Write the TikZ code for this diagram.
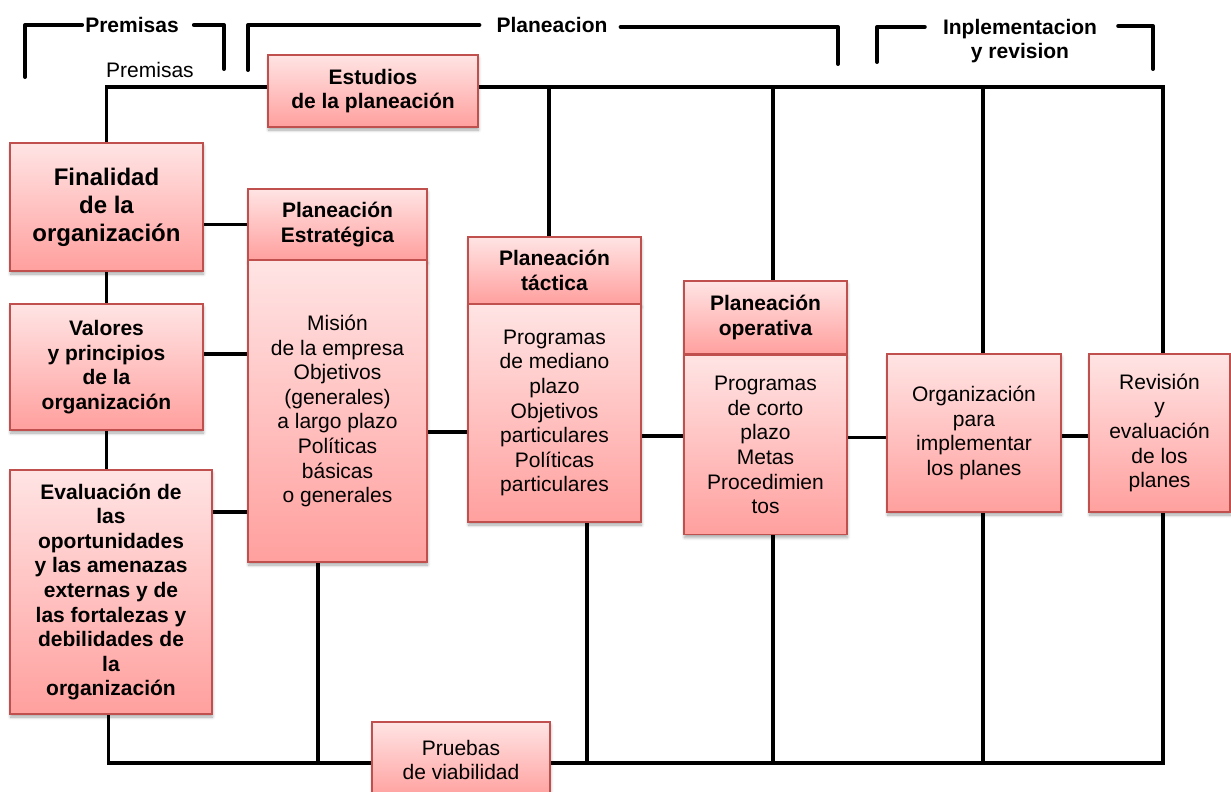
\documentclass[tikz,border=0pt]{standalone}
\usepackage{fontspec}
\setmainfont{Liberation Sans}
\usetikzlibrary{shadows.blur,backgrounds}
\definecolor{boxline}{RGB}{192,80,77}
\definecolor{pinktop}{RGB}{255,228,228}
\definecolor{pinkbot}{RGB}{255,160,158}
\tikzset{
  card/.style={draw=boxline, line width=1.6pt, top color=pinktop, bottom color=pinkbot,
    align=center, inner sep=0pt, font=\fontsize{21}{24.6}\selectfont,
    blur shadow={shadow xshift=0.5pt, shadow yshift=-3pt, shadow blur radius=3pt,
      shadow blur steps=6, shadow opacity=35}},
  bcard/.style={card, font=\bfseries\fontsize{21}{24.6}\selectfont},
  link/.style={line width=3.5pt, black},
  bracket/.style={line width=4pt, black, line cap=round, line join=round},
  lbl/.style={font=\bfseries\fontsize{21}{24}\selectfont, align=center, inner sep=0pt},
}
\begin{document}
\begin{tikzpicture}[x=1pt, y=-1pt]
\useasboundingbox (0,0) rectangle (1231,792);

% ---- boxes ----
\node[bcard, minimum width=210pt, minimum height=72pt] (est) at (373,91) {Estudios\\de la planeación};
\node[bcard, minimum width=193pt, minimum height=128pt, font=\bfseries\fontsize{24}{28}\selectfont] (fin) at (106.5,207) {Finalidad\\de la\\organización};
\node[bcard, minimum width=193pt, minimum height=126pt] (val) at (106.5,367) {Valores\\y principios\\de la\\organización};
\node[bcard, minimum width=202pt, minimum height=244pt] (eva) at (111,592) {Evaluación de\\las\\oportunidades\\y las amenazas\\externas y de\\las fortalezas y\\debilidades de\\la\\organización};

\node[bcard, minimum width=179pt, minimum height=71pt] (peh) at (337.5,224.5) {Planeación\\Estratégica};
\node[card, minimum width=179pt, minimum height=302pt] (peb) at (337.5,411) {Misión\\de la empresa\\Objetivos\\(generales)\\a largo plazo\\Políticas\\básicas\\o generales};

\node[bcard, minimum width=173pt, minimum height=67pt] (pth) at (554.5,270.5) {Planeación\\táctica};
\node[card, minimum width=173pt, minimum height=218pt] (ptb) at (554.5,413) {Programas\\de mediano\\plazo\\Objetivos\\particulares\\Políticas\\particulares};

\node[bcard, minimum width=163pt, minimum height=73pt] (poh) at (765.5,317.5) {Planeación\\operativa};
\node[card, minimum width=163pt, minimum height=179pt] (pob) at (765.5,445) {Programas\\de corto\\plazo\\Metas\\Procedimien\\tos};

\node[card, minimum width=174pt, minimum height=158pt] (org) at (974,433) {Organización\\para\\implementar\\los planes};
\node[card, minimum width=141pt, minimum height=158pt] (rev) at (1159.5,433) {Revisión\\y\\evaluación\\de los\\planes};

\node[card, minimum width=178pt, minimum height=76pt] (pru) at (461,760) {Pruebas\\de viabilidad};

% ---- group labels ----
\node[lbl] (bp) at (132,25) {Premisas};
\node[lbl] (bq) at (552,25) {Planeacion};
\node[lbl] (bi) at (1020,41) {Inplementacion\\y revision};
\node[font=\fontsize{21}{24}\selectfont, inner sep=0pt] (prem) at (150,70) {Premisas};

\coordinate (p1) at (25,77);
\coordinate (p2) at (224,69);
\coordinate (q1) at (248,70);
\coordinate (q2) at (838,64);
\coordinate (r1) at (877,62);
\coordinate (r2) at (1153,69);
\draw[bracket] ([xshift=-3pt]bp.west) -| (p1);
\draw[bracket] ([xshift=15pt]bp.east) -| (p2);
\draw[bracket] ([xshift=-17pt]bq.west) -| (q1);
\draw[bracket] ([xshift=13pt,yshift=-2pt]bq.east) -| (q2);
\draw[bracket] ([xshift=-18pt,yshift=14pt]bi.west) -| (r1);
\draw[bracket] ([xshift=21pt,yshift=15pt]bi.east) -| (r2);

% ---- connectors ----
\begin{scope}[on background layer]
  % upper bus
  \coordinate (tl) at ([yshift=4pt]est.west);
  \coordinate (tr) at ([yshift=4pt]est.east);
  \draw[link] (fin.north) |- (tl);
  \draw[link] (tr) -| ([xshift=3.5pt]rev.north);
  \coordinate (ptt) at ([xshift=-5.5pt]pth.north);
  \coordinate (pot) at ([xshift=7.5pt]poh.north);
  \coordinate (ort) at ([xshift=9pt]org.north);
  \draw[link] (ptt) -- (ptt |- tr);
  \draw[link] (pot) -- (pot |- tr);
  \draw[link] (ort) -- (ort |- tr);

  % left column
  \draw[link] (fin.south) -- (val.north);
  \draw[link] (val.south) -- (val.south |- eva.north);
  \draw[link] (peh.west) -- (peh.west -| fin.east);
  \coordinate (v1) at ([yshift=13pt]val.east);
  \draw[link] (v1) -- (v1 -| peb.west);
  \coordinate (e1) at ([yshift=80pt]eva.east);
  \draw[link] (e1) -- (e1 -| peb.west);

  % middle chain
  \coordinate (c1) at ([yshift=-21pt]peb.east);
  \draw[link] (c1) -- (c1 -| ptb.west);
  \coordinate (c2) at ([yshift=-23pt]ptb.east);
  \draw[link] (c2) -- (c2 -| pob.west);
  \coordinate (c3) at ([yshift=7.5pt]pob.east);
  \draw[link] (c3) -- (c3 -| org.west);
  \coordinate (c4) at ([yshift=-3pt]org.east);
  \draw[link] (c4) -- (c4 -| rev.west);

  % lower bus
  \coordinate (bl) at ([yshift=-3pt]pru.west);
  \coordinate (br) at ([yshift=-3pt]pru.east);
  \draw[link] ([xshift=-2.5pt]eva.south) |- (bl);
  \draw[link] (br) -| ([xshift=3.5pt]rev.south);
  \coordinate (peo) at ([xshift=-19.5pt]peb.south);
  \coordinate (pto) at ([xshift=32.5pt]ptb.south);
  \coordinate (poo) at ([xshift=7.5pt]pob.south);
  \coordinate (oro) at ([xshift=9pt]org.south);
  \draw[link] (peo) -- (peo |- bl);
  \draw[link] (pto) -- (pto |- br);
  \draw[link] (poo) -- (poo |- br);
  \draw[link] (oro) -- (oro |- br);
\end{scope}
\end{tikzpicture}
\end{document}
